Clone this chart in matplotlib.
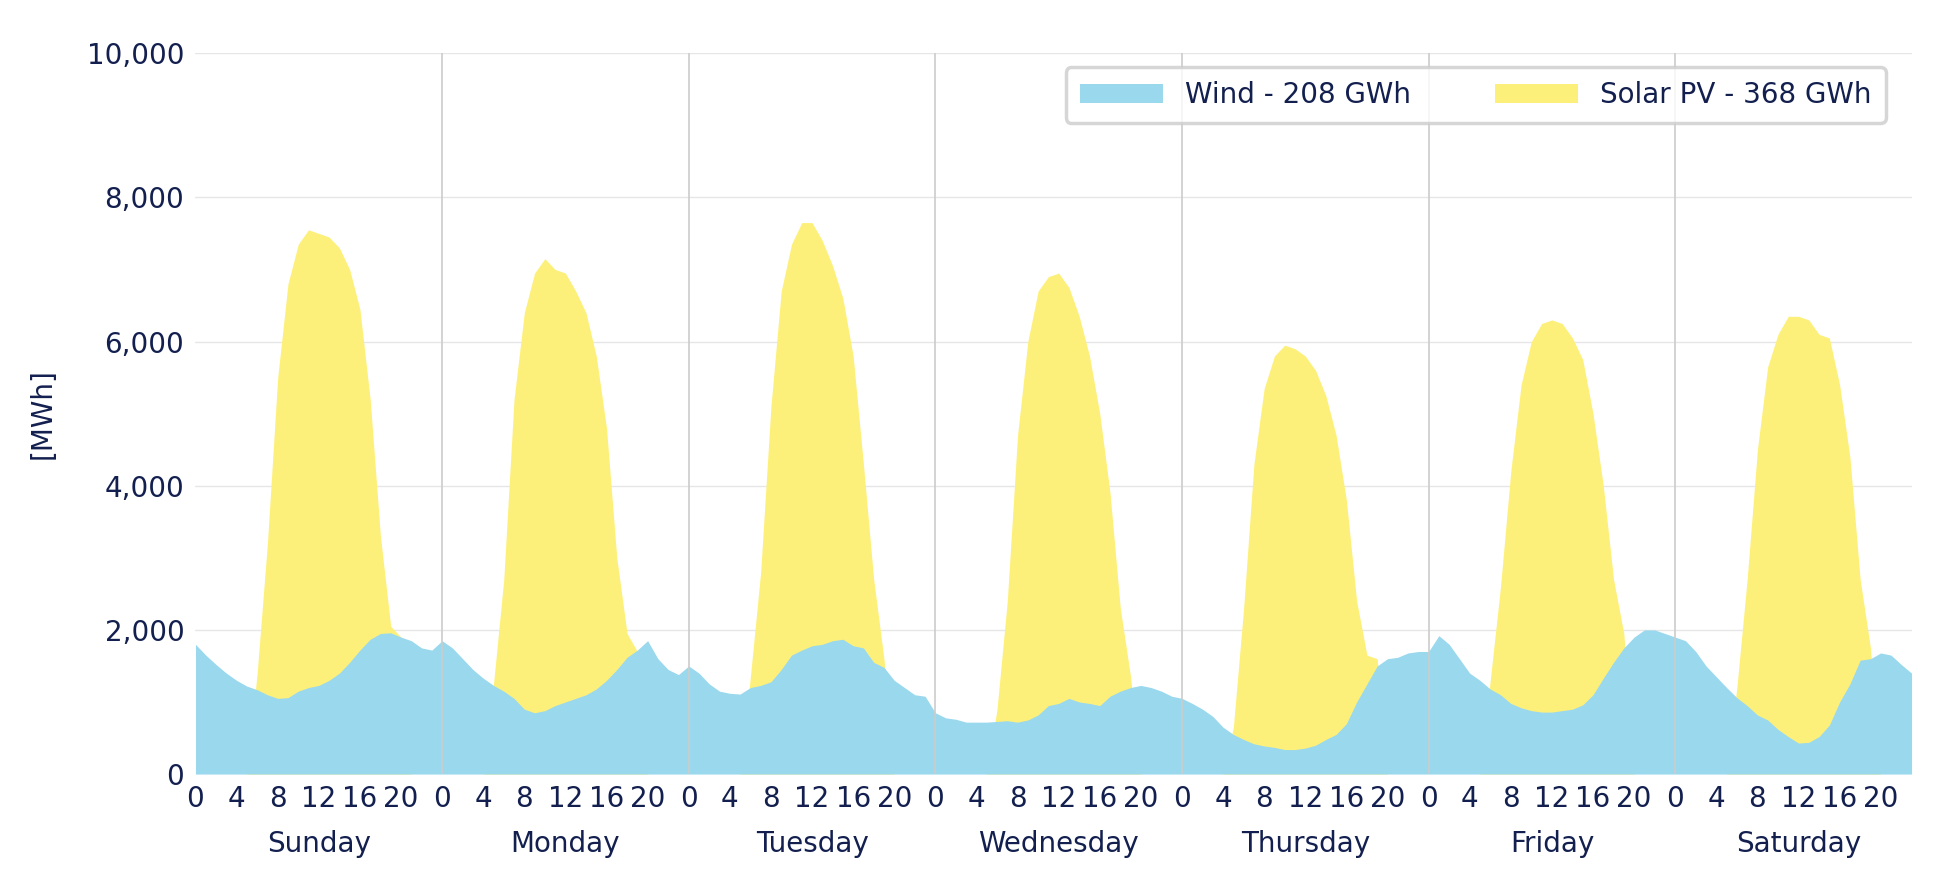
import matplotlib
matplotlib.use("Agg")
import matplotlib.pyplot as plt
import numpy as np

days = ["Sunday","Monday","Tuesday","Wednesday","Thursday","Friday","Saturday"]
wind_sun = [1800,1650,1520,1400,1300,1220,1170,1100,1050,1060,1150,1200,1230,1300,1400,1550,1720,1870,1950,1960,1900,1850,1750,1720]
wind_mon = [1850,1750,1600,1450,1330,1230,1150,1050,900,850,880,950,1000,1050,1100,1180,1300,1450,1620,1720,1850,1600,1450,1380]
wind_tue = [1500,1400,1250,1150,1120,1110,1200,1230,1280,1450,1650,1720,1780,1800,1850,1870,1780,1750,1550,1480,1300,1200,1100,1080]
wind_wed = [850,780,760,720,720,720,730,740,720,750,820,950,980,1050,1000,980,950,1080,1150,1200,1230,1200,1150,1080]
wind_thu = [1050,980,900,800,650,550,480,420,390,370,340,340,360,400,480,550,700,1000,1250,1500,1600,1620,1680,1700]
wind_fri = [1700,1920,1800,1600,1400,1300,1180,1100,980,920,880,860,860,880,900,960,1100,1330,1550,1750,1900,2000,2000,1950]
wind_sat = [1900,1850,1700,1500,1350,1200,1060,950,820,750,620,520,430,440,520,680,1000,1250,1580,1600,1680,1650,1520,1400]

solar_sun = [0,0,0,0,0,0,1400,3200,5500,6800,7350,7550,7500,7450,7300,7000,6450,5200,3300,2050,1900,0,0,0]
solar_mon = [0,0,0,0,0,1250,2700,5200,6400,6950,7150,7000,6950,6700,6400,5800,4800,3000,1950,1700,0,0,0,0]
solar_tue = [0,0,0,0,0,0,1350,2800,5100,6700,7350,7650,7650,7400,7050,6600,5800,4300,2700,1600,0,0,0,0]
solar_wed = [0,0,0,0,0,0,900,2400,4700,6000,6700,6900,6950,6750,6350,5800,5000,3900,2300,1350,0,0,0,0]
solar_thu = [0,0,0,0,0,650,2300,4300,5350,5800,5950,5900,5800,5600,5250,4700,3800,2400,1650,1600,0,0,0,0]
solar_fri = [0,0,0,0,0,0,1300,2600,4200,5400,6000,6250,6300,6250,6050,5750,5000,4000,2700,1950,0,0,0,0]
solar_sat = [0,0,0,0,0,0,1200,2700,4500,5650,6100,6350,6350,6300,6100,6050,5400,4400,2700,1750,0,0,0,0]

wind = np.array(wind_sun+wind_mon+wind_tue+wind_wed+wind_thu+wind_fri+wind_sat)
solar = np.array(solar_sun+solar_mon+solar_tue+solar_wed+solar_thu+solar_fri+solar_sat)
x = np.arange(len(wind))

navy = "#13204f"
fig = plt.figure(figsize=(19.4, 8.94), dpi=100)
W, H = 1568, 723
ax = fig.add_axes([158/W, 1-626/H, (1545-158)/W, (626-43)/H])
ax.fill_between(x, 0, solar, color="#fdf07a", lw=0, label="Solar PV - 368 GWh", zorder=2)
ax.fill_between(x, 0, wind, color="#9ad8ee", lw=0, label="Wind - 208 GWh", zorder=3)
ax.set_xlim(0, 167)
ax.set_ylim(0, 10000)
ax.set_yticks(range(0, 10001, 2000))
ax.set_yticklabels([f"{v:,}" for v in range(0, 10001, 2000)])
ax.grid(axis="y", color="#e6e6e6", lw=1, zorder=0)
for d in range(1, 7):
    ax.axvline(d*24, color="#cccccc", lw=1.2, zorder=4)
ticks = [d*24+h for d in range(7) for h in range(0, 24, 4)]
ax.set_xticks(ticks)
ax.set_xticklabels([str(t % 24) for t in ticks])
for d, name in enumerate(days):
    ax.text(d*24+12, -780, name, ha="center", va="top", fontsize=20, color=navy)
for s in ax.spines.values():
    s.set_visible(False)
ax.tick_params(length=0, labelsize=20, colors=navy, pad=8)
ax.set_ylabel("[MWh]", fontsize=20, color=navy, labelpad=22)
h, l = ax.get_legend_handles_labels()
leg = ax.legend(h[::-1], l[::-1], loc="upper right", ncol=2, fontsize=20, frameon=True,
                edgecolor="#cccccc", fancybox=True, columnspacing=3, handlelength=3,
                borderpad=0.5, labelcolor=navy, bbox_to_anchor=(0.993, 1.0))
leg.get_frame().set_linewidth(2.5)
fig.savefig("out.png", dpi=100)
